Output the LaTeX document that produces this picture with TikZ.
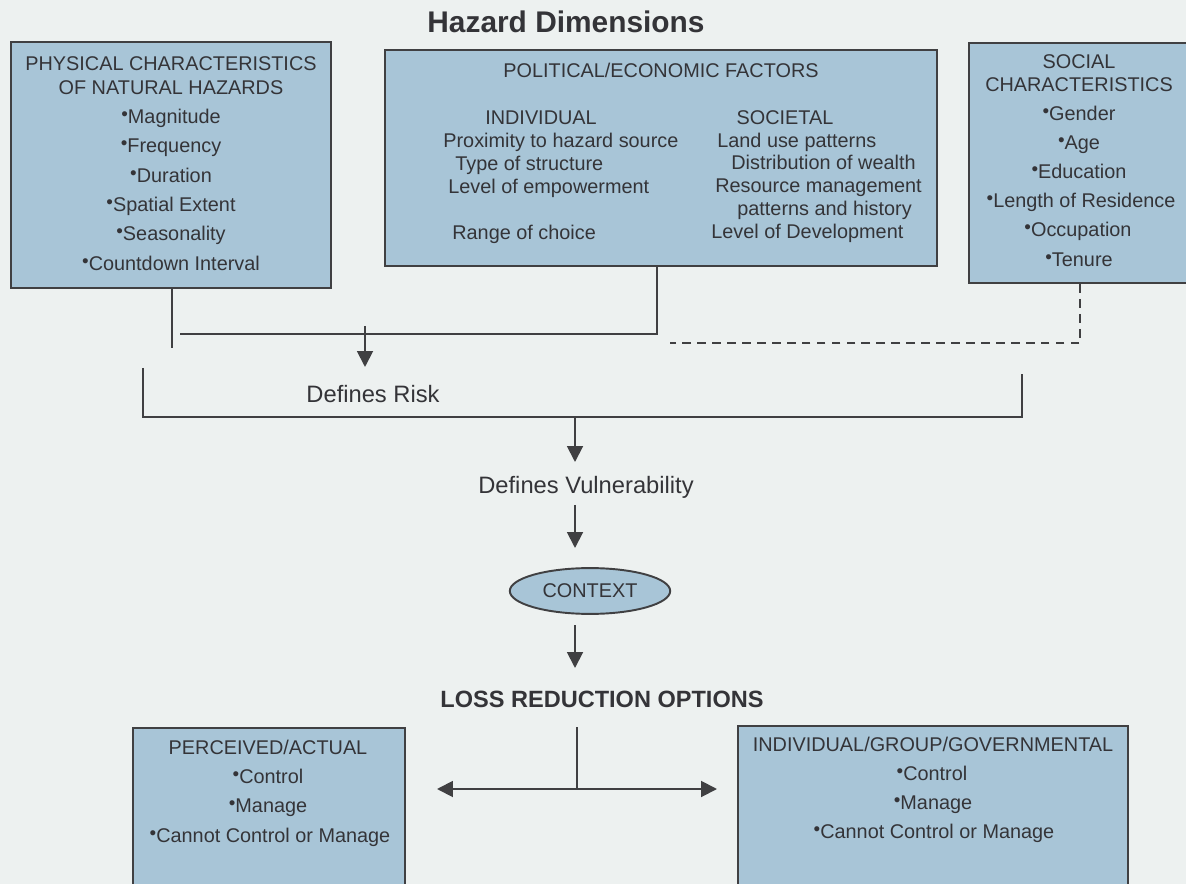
\documentclass[tikz,border=0pt]{standalone}
\usepackage{fontspec}
\setmainfont{Liberation Sans}
\usetikzlibrary{arrows.meta,fit,shapes.geometric}
\definecolor{bgc}{RGB}{237,241,240}
\definecolor{boxc}{RGB}{168,197,215}
\definecolor{linec}{RGB}{64,64,66}
\definecolor{textc}{RGB}{52,52,56}
\newcommand\bul{\raisebox{0.3ex}{\scalebox{0.95}{\textbullet}}}
\begin{document}
\begin{tikzpicture}[x=0.02cm,y=-0.02cm,
  hbox/.style={draw=linec,fill=boxc,line width=1.1pt,inner sep=0pt},
  txt/.style={font=\fontsize{11.3}{13}\selectfont,text=textc,inner sep=0pt,text height=1.7ex,text depth=0.3ex},
  big/.style={font=\fontsize{13.5}{15}\selectfont,text=textc,inner sep=0pt,text height=1.7ex,text depth=0.3ex},
  conn/.style={draw=linec,line width=1.1pt},
  arr/.style={conn,-{Triangle[length=9pt,width=9pt]}},
  darr/.style={conn,{Triangle[length=9pt,width=9pt]}-{Triangle[length=9pt,width=9pt]}},
  dconn/.style={conn,dash pattern=on 5pt off 3.5pt}]
\clip (0,0) rectangle (1186,884);
\fill[bgc] (0,0) rectangle (1186,884);

% title
\node[font=\bfseries\fontsize{17}{19}\selectfont,text=textc,inner sep=0pt] (title) at (566,22) {Hazard Dimensions};

% boxes
\node[hbox,fit={(11,42)(331,288)}] (phys) {};
\node[hbox,fit={(385,50)(937,266)}] (pol) {};
\node[hbox,fit={(969,43)(1192,283)}] (soc) {};
\node[hbox,fit={(133,728)(405,895)}] (perc) {};
\node[hbox,fit={(738,726)(1128,895)}] (indg) {};

% physical text
\node[txt] (ph1) at (171,64) {PHYSICAL CHARACTERISTICS};
\node[txt] (ph2) at (171,88) {OF NATURAL HAZARDS};
\node[txt] (ph3) at (171,117) {\bul Magnitude};
\node[txt] (ph4) at (171,146) {\bul Frequency};
\node[txt] (ph5) at (171,176) {\bul Duration};
\node[txt] (ph6) at (171,205) {\bul Spatial Extent};
\node[txt] (ph7) at (171,234) {\bul Seasonality};
\node[txt] (ph8) at (171,264) {\bul Countdown Interval};

% political text
\node[txt] (po0) at (661,71) {POLITICAL/ECONOMIC FACTORS};
\node[txt] (po1) at (541,118) {INDIVIDUAL};
\node[txt] (po2) at (785,118) {SOCIETAL};
\node[txt,anchor=west] (pl1) at (443,141) {Proximity to hazard source};
\node[txt,anchor=west] (pl2) at (455,164) {Type of structure};
\node[txt,anchor=west] (pl3) at (448,187) {Level of empowerment};
\node[txt,anchor=west] (pl4) at (452,233) {Range of choice};
\node[txt,anchor=west] (pr1) at (717,141) {Land use patterns};
\node[txt,anchor=west] (pr2) at (731,163) {Distribution of wealth};
\node[txt,anchor=west] (pr3) at (715,186) {Resource management};
\node[txt,anchor=west] (pr4) at (737,209) {patterns and history};
\node[txt,anchor=west] (pr5) at (711,232) {Level of Development};

% social text
\node[txt] (so1) at (1079,62) {SOCIAL};
\node[txt] (so2) at (1079,85) {CHARACTERISTICS};
\node[txt] (so3) at (1079,114) {\bul Gender};
\node[txt] (so4) at (1079,143) {\bul Age};
\node[txt] (so5) at (1079,172) {\bul Education};
\node[txt] (so6) at (1081,201) {\bul Length of Residence};
\node[txt] (so7) at (1078,230) {\bul Occupation};
\node[txt] (so8) at (1079,260) {\bul Tenure};

% connectors from top boxes
\coordinate (pa) at (172,348);
\draw[conn] (phys.south -| pa) -- (pa);
\coordinate (hl) at (180,334);
\coordinate (hr) at (657,334);
\draw[conn] (hl) -- (hr) -- (pol.south -| hr);
\coordinate (ra) at (365,326);
\coordinate (rb) at (365,367);
\draw[arr] (ra) -- (rb);
\coordinate (da) at (1080,343);
\coordinate (db) at (670,343);
\draw[dconn] (soc.south -| da) -- (da) -- (db);

% bracket
\coordinate (bl1) at (143,368);
\coordinate (bl2) at (143,417);
\coordinate (br2) at (1022,417);
\coordinate (br1) at (1022,374);
\draw[conn] (bl1) -- (bl2) -- (br2) -- (br1);
\node[big] (risk) at (373,396) {Defines Risk};

% vulnerability
\coordinate (va) at (575,417);
\draw[arr] (va) -- (575,462);
\node[big] (vul) at (586,487) {Defines Vulnerability};
\coordinate (vb) at (575,505);
\coordinate (vc) at (575,548);
\draw[arr] (vb) -- (vc);

\node[ellipse,draw=linec,fill=boxc,line width=1.1pt,minimum width=161*0.567pt,minimum height=46*0.567pt,inner sep=0pt,
  font=\fontsize{11.3}{13}\selectfont,text=textc] (ctx) at (590,591) {CONTEXT};
\coordinate (cb) at (575,625);
\coordinate (cc) at (575,668);
\draw[arr] (cb) -- (cc);

\node[font=\bfseries\fontsize{13.4}{15}\selectfont,text=textc,inner sep=0pt] (loss) at (602,699) {LOSS REDUCTION OPTIONS};
\coordinate (la) at (577,727);
\coordinate (lb) at (577,789);
\draw[conn] (la) -- (lb);
\coordinate (lleft) at (437,789);
\coordinate (lright) at (717,789);
\draw[darr] (lleft) -- (lright);

% bottom boxes text
\node[txt] (pe1) at (268,748) {PERCEIVED/ACTUAL};
\node[txt] (pe2) at (268,777) {\bul Control};
\node[txt] (pe3) at (268,806) {\bul Manage};
\node[txt] (pe4) at (270,836) {\bul Cannot Control or Manage};

\node[txt] (ig1) at (933,745) {INDIVIDUAL/GROUP/GOVERNMENTAL};
\node[txt] (ig2) at (932,774) {\bul Control};
\node[txt] (ig3) at (933,803) {\bul Manage};
\node[txt] (ig4) at (934,832) {\bul Cannot Control or Manage};
\end{tikzpicture}
\end{document}
